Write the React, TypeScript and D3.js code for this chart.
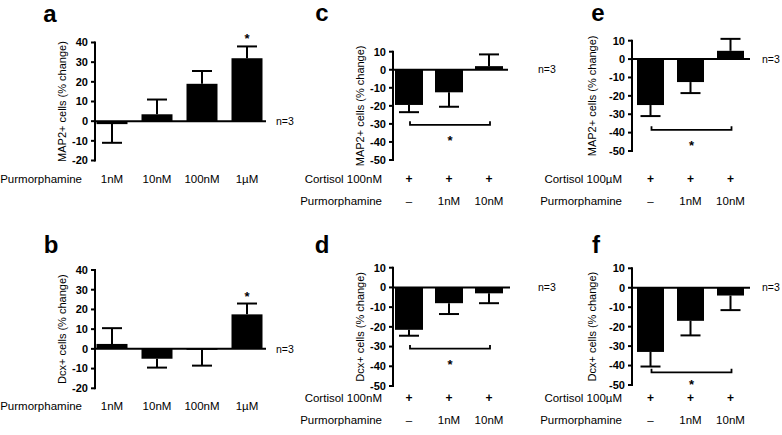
import React from "react";
import * as d3 from "d3";

// ---- data ----
const doseLabels = ["1nM", "10nM", "100nM", "1µM"];
const doseTicks = [-20, -10, 0, 10, 20, 30, 40];
const map2Dose = [-1.5, 3.5, 19, 32];
const map2DoseErr = [9.5, 7.5, 6.5, 6];
const map2DoseSig = [false, false, false, true];
const dcxDose = [2.5, -5, -0.5, 17.5];
const dcxDoseErr = [8, 4.5, 8, 5.5];
const dcxDoseSig = [false, false, false, true];

const cortGroups = ["–", "1nM", "10nM"];
const cortMarks = ["+", "+", "+"];
const cortTicks = [-50, -40, -30, -20, -10, 0, 10];
const map2Cort100nM = [-19.5, -12.5, 2];
const map2Cort100nMErr = [4, 8, 6.5];
const dcxCort100nM = [-21.5, -8, -3];
const dcxCort100nMErr = [3, 5.5, 5];
const map2Cort100uM = [-25, -12.5, 4.5];
const map2Cort100uMErr = [6, 6, 6.5];
const dcxCort100uM = [-33, -17, -4];
const dcxCort100uMErr = [7.5, 7.5, 7.5];
const bracketLevels = { c: -30.5, d: -31, e: -38.5, f: -43.5 };

const FONT = "'Liberation Sans', Arial, Helvetica, sans-serif";

type Row = { label: string; y: number; entries: string[] };
type Panel = {
  letter: string; letterX: number; letterY: number;
  values: number[]; errs: number[]; sig?: boolean[]; bracket?: number; starGap?: number;
  ticks: number[]; axisX: number; yTop: number; yBottom: number;
  c0: number; c1: number; barW: number; lineEnd: number; nX: number;
  ylabel: string; ylabelX: number; labelRight: number; rows: Row[];
};

const panels: Panel[] = [
  { letter: "a", letterX: 50, letterY: 22, values: map2Dose, errs: map2DoseErr, sig: map2DoseSig,
    ticks: doseTicks, axisX: 95, yTop: 42.5, yBottom: 160.5, c0: 112, c1: 247, barW: 31, lineEnd: 266, nX: 276,
    ylabel: "MAP2+ cells (% change)", ylabelX: 62, labelRight: 82,
    rows: [{ label: "Purmorphamine", y: 179, entries: doseLabels }] },
  { letter: "b", letterX: 51, letterY: 253, values: dcxDose, errs: dcxDoseErr, sig: dcxDoseSig,
    ticks: doseTicks, axisX: 95, yTop: 270, yBottom: 388.3, c0: 112, c1: 247, barW: 31, lineEnd: 266, nX: 276,
    ylabel: "Dcx+ cells (% change)", ylabelX: 62, labelRight: 82,
    rows: [{ label: "Purmorphamine", y: 406, entries: doseLabels }] },
  { letter: "c", letterX: 322, letterY: 21, values: map2Cort100nM, errs: map2Cort100nMErr, bracket: bracketLevels.c, starGap: 13,
    ticks: cortTicks, axisX: 393, yTop: 51.7, yBottom: 160, c0: 409, c1: 489, barW: 28, lineEnd: 508, nX: 538,
    ylabel: "MAP2+ cells (% change)", ylabelX: 360, labelRight: 382,
    rows: [{ label: "Cortisol 100nM", y: 179, entries: cortMarks }, { label: "Purmorphamine", y: 201, entries: cortGroups }] },
  { letter: "d", letterX: 322, letterY: 253, values: dcxCort100nM, errs: dcxCort100nMErr, bracket: bracketLevels.d, starGap: 13,
    ticks: cortTicks, axisX: 393, yTop: 267.7, yBottom: 386, c0: 409, c1: 489, barW: 28, lineEnd: 510, nX: 538,
    ylabel: "Dcx+ cells (% change)", ylabelX: 360, labelRight: 382,
    rows: [{ label: "Cortisol 100nM", y: 398, entries: cortMarks }, { label: "Purmorphamine", y: 420, entries: cortGroups }] },
  { letter: "e", letterX: 598, letterY: 21, values: map2Cort100uM, errs: map2Cort100uMErr, bracket: bracketLevels.e, starGap: 13,
    ticks: cortTicks, axisX: 632, yTop: 40.7, yBottom: 151, c0: 650.5, c1: 730.5, barW: 27, lineEnd: 750, nX: 762,
    ylabel: "MAP2+ cells (% change)", ylabelX: 592, labelRight: 622,
    rows: [{ label: "Cortisol 100µM", y: 179, entries: cortMarks }, { label: "Purmorphamine", y: 201, entries: cortGroups }] },
  { letter: "f", letterX: 596, letterY: 253, values: dcxCort100uM, errs: dcxCort100uMErr, bracket: bracketLevels.f, starGap: 10,
    ticks: cortTicks, axisX: 632, yTop: 268.3, yBottom: 385, c0: 650.5, c1: 730.5, barW: 27, lineEnd: 750, nX: 762,
    ylabel: "Dcx+ cells (% change)", ylabelX: 592, labelRight: 622,
    rows: [{ label: "Cortisol 100µM", y: 398, entries: cortMarks }, { label: "Purmorphamine", y: 420, entries: cortGroups }] },
];

function Star({ x, cy }: { x: number; cy: number }) {
  return (
    <text x={x} y={cy + 7} textAnchor="middle" fontSize={13} fontWeight="bold" fontFamily={FONT}>*</text>
  );
}

function BarPanel({ p }: { p: Panel }) {
  const ext = d3.extent(p.ticks) as [number, number];
  const y = d3.scaleLinear().domain(ext).range([p.yBottom, p.yTop]);
  const idx = p.values.map((_, i) => String(i));
  const x = d3.scalePoint<string>().domain(idx).range([p.c0, p.c1]);
  const y0 = y(0);
  const capW = 20;
  return (
    <g fontFamily={FONT}>
      <text x={p.letterX} y={p.letterY} textAnchor="middle" fontSize={24} fontWeight="bold">{p.letter}</text>
      {/* y axis */}
      <line x1={p.axisX} x2={p.axisX} y1={y(ext[1]) - 1} y2={y(ext[0]) + 1} stroke="#000" strokeWidth={2} />
      {p.ticks.map((t) => (
        <g key={t}>
          <line x1={p.axisX - 4} x2={p.axisX} y1={y(t)} y2={y(t)} stroke="#000" strokeWidth={2} />
          <text x={p.axisX - 7} y={y(t)} dy="0.35em" textAnchor="end" fontSize={11} fontWeight="bold">{t}</text>
        </g>
      ))}
      <text transform={`translate(${p.ylabelX},${(p.yTop + p.yBottom) / 2}) rotate(-90)`} textAnchor="middle"
        dy="0.35em" fontSize={11}>{p.ylabel}</text>
      {/* bars */}
      {p.values.map((v, i) => {
        const cx = x(String(i)) as number;
        const top = Math.min(y(v), y0);
        const h = Math.abs(y(v) - y0);
        const ev = v >= 0 ? v + p.errs[i] : v - p.errs[i];
        return (
          <g key={i}>
            <rect x={cx - p.barW / 2} y={top} width={p.barW} height={h} fill="#000" />
            <line x1={cx} x2={cx} y1={y(v)} y2={y(ev)} stroke="#000" strokeWidth={2} />
            <line x1={cx - capW / 2} x2={cx + capW / 2} y1={y(ev)} y2={y(ev)} stroke="#000" strokeWidth={2} />
            {p.sig && p.sig[i] ? <Star x={cx} cy={y(ev) - 10} /> : null}
          </g>
        );
      })}
      {/* zero line */}
      <line x1={p.axisX} x2={p.lineEnd} y1={y0} y2={y0} stroke="#000" strokeWidth={2} />
      <text x={p.nX} y={y0} dy="0.35em" fontSize={10.5}>n=3</text>
      {/* bracket */}
      {p.bracket !== undefined ? (() => {
        const by = y(p.bracket);
        const bx0 = (x("0") as number) + 1;
        const bx1 = (x(String(p.values.length - 1)) as number) + 1;
        return (
          <g>
            <path d={`M${bx0},${by - 3.5}V${by}H${bx1}V${by - 3.5}`} fill="none" stroke="#000" strokeWidth={1.8} />
            <Star x={(bx0 + bx1) / 2} cy={by + (p.starGap ?? 13)} />
          </g>
        );
      })() : null}
      {/* rows */}
      {p.rows.map((r) => (
        <g key={r.label}>
          <text x={p.labelRight} y={r.y} dy="0.35em" textAnchor="end" fontSize={11.5}>{r.label}</text>
          {r.entries.map((e, i) => (
            <text key={i} x={x(String(i)) as number} y={r.y} dy="0.35em" textAnchor="middle"
              fontSize={e === "+" ? 12 : 11.5} fontWeight={e === "+" ? "bold" : "normal"}>{e}</text>
          ))}
        </g>
      ))}
    </g>
  );
}

export default function App() {
  return (
    <svg width={782} height={435} style={{ position: "absolute", left: 0, top: 0, background: "#fff" }}>
      <rect width={782} height={435} fill="#fff" />
      {panels.map((p) => <BarPanel key={p.letter} p={p} />)}
    </svg>
  );
}
